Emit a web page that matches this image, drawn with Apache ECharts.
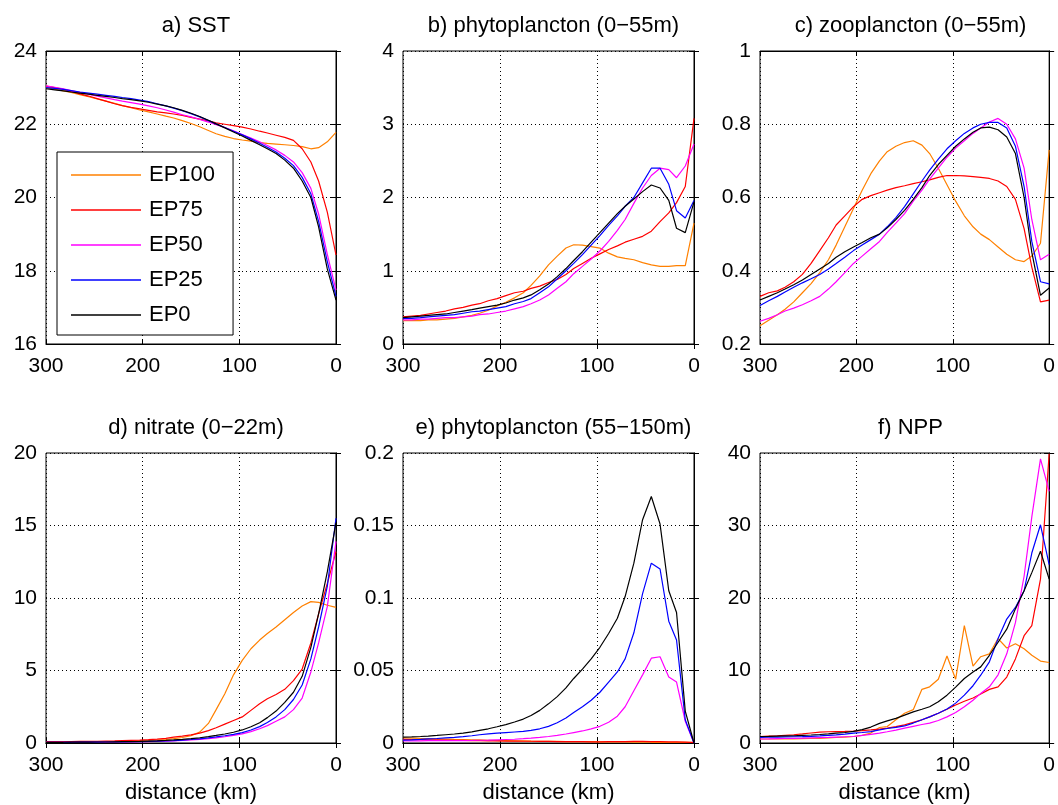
<!DOCTYPE html>
<html>
<head>
<meta charset="utf-8">
<script src="https://cdn.jsdelivr.net/npm/echarts@6/dist/echarts.min.js"></script>
<style>
  html, body { margin: 0; padding: 0; background: #fff; }
  #chart { width: 1058px; height: 805px; }
</style>
</head>
<body>
<div id="chart"></div>
<script>
// distance from the coast (km), shared by every panel
const distanceKm = [300,291,282,274,265,256,247,238,229,221,212,203,194,185,176,168,159,150,141,132,124,115,106,97,88,79,71,62,53,44,35,26,18,9,0];
const runNames = ['EP100', 'EP75', 'EP50', 'EP25', 'EP0'];
const xTicks = [300, 200, 100, 0];

// a) SST
const sstEP100 = [23.0,22.96,22.91,22.87,22.81,22.75,22.69,22.63,22.57,22.51,22.45,22.39,22.34,22.28,22.22,22.17,22.1,22.02,21.93,21.83,21.74,21.67,21.61,21.57,21.54,21.5,21.48,21.46,21.44,21.42,21.39,21.33,21.36,21.52,21.78];
const sstEP75  = [23.04,23.0,22.95,22.9,22.83,22.77,22.7,22.63,22.56,22.51,22.46,22.42,22.38,22.34,22.31,22.28,22.24,22.19,22.14,22.09,22.04,22.0,21.96,21.92,21.87,21.81,21.76,21.7,21.64,21.56,21.33,20.97,20.45,19.6,18.43];
const sstEP50  = [23.05,23.01,22.97,22.92,22.87,22.82,22.77,22.72,22.67,22.63,22.59,22.55,22.5,22.45,22.39,22.33,22.26,22.2,22.13,22.06,21.99,21.91,21.82,21.72,21.62,21.52,21.42,21.3,21.15,20.97,20.68,20.25,19.55,18.45,17.47];
const sstEP25  = [23.0,22.98,22.95,22.92,22.88,22.85,22.82,22.79,22.76,22.73,22.7,22.66,22.62,22.56,22.5,22.44,22.37,22.29,22.2,22.1,22.01,21.91,21.81,21.71,21.6,21.48,21.37,21.24,21.07,20.87,20.55,20.1,19.35,18.25,17.3];
const sstEP0   = [22.97,22.94,22.91,22.88,22.85,22.82,22.79,22.76,22.73,22.7,22.67,22.64,22.6,22.55,22.5,22.45,22.38,22.3,22.21,22.11,22.01,21.9,21.79,21.68,21.56,21.44,21.33,21.2,21.02,20.8,20.45,20.0,19.2,18.05,17.2];

// b) phytoplancton (0-55m)
const phyEP100 = [0.32,0.32,0.32,0.33,0.33,0.34,0.35,0.37,0.39,0.42,0.46,0.52,0.57,0.63,0.7,0.8,0.93,1.08,1.2,1.31,1.355,1.35,1.33,1.31,1.24,1.19,1.17,1.15,1.11,1.08,1.06,1.06,1.07,1.07,1.65];
const phyEP75  = [0.37,0.38,0.39,0.41,0.43,0.45,0.48,0.5,0.53,0.55,0.59,0.62,0.66,0.7,0.72,0.76,0.79,0.84,0.88,0.95,1.03,1.1,1.17,1.23,1.29,1.34,1.39,1.43,1.47,1.54,1.67,1.79,1.93,2.15,3.08];
const phyEP50  = [0.33,0.33,0.34,0.34,0.35,0.36,0.36,0.37,0.38,0.4,0.41,0.43,0.45,0.48,0.51,0.55,0.6,0.67,0.76,0.85,0.96,1.06,1.16,1.27,1.4,1.55,1.7,1.92,2.13,2.3,2.4,2.38,2.27,2.43,2.73];
const phyEP25  = [0.35,0.35,0.36,0.37,0.38,0.39,0.4,0.42,0.44,0.45,0.47,0.49,0.51,0.55,0.58,0.62,0.7,0.78,0.89,1.0,1.1,1.22,1.35,1.48,1.62,1.75,1.88,2.0,2.2,2.4,2.4,2.18,1.82,1.72,1.96];
const phyEP0   = [0.36,0.37,0.38,0.39,0.4,0.41,0.43,0.45,0.47,0.49,0.51,0.53,0.56,0.6,0.63,0.67,0.74,0.82,0.92,1.03,1.14,1.26,1.39,1.52,1.65,1.78,1.88,1.98,2.08,2.17,2.13,1.96,1.58,1.52,1.94];

// c) zooplancton (0-55m)
const zooEP100 = [0.25,0.265,0.28,0.295,0.315,0.34,0.365,0.395,0.43,0.47,0.52,0.57,0.62,0.665,0.7,0.725,0.74,0.75,0.755,0.743,0.72,0.68,0.635,0.59,0.55,0.52,0.5,0.485,0.465,0.445,0.43,0.425,0.44,0.475,0.73];
const zooEP75  = [0.33,0.34,0.345,0.355,0.37,0.39,0.42,0.455,0.49,0.525,0.55,0.575,0.595,0.605,0.613,0.62,0.627,0.632,0.638,0.643,0.648,0.655,0.66,0.66,0.659,0.657,0.655,0.652,0.645,0.63,0.595,0.515,0.41,0.315,0.32];
const zooEP50  = [0.262,0.27,0.28,0.29,0.298,0.307,0.318,0.33,0.35,0.37,0.395,0.42,0.44,0.46,0.48,0.505,0.53,0.556,0.59,0.62,0.65,0.68,0.71,0.735,0.755,0.775,0.79,0.806,0.816,0.8,0.76,0.68,0.54,0.43,0.445];
const zooEP25  = [0.305,0.318,0.33,0.342,0.355,0.367,0.378,0.39,0.405,0.42,0.437,0.455,0.47,0.485,0.5,0.52,0.545,0.575,0.61,0.645,0.675,0.705,0.733,0.755,0.775,0.79,0.8,0.805,0.805,0.79,0.74,0.63,0.48,0.37,0.364];
const zooEP0   = [0.32,0.33,0.34,0.35,0.362,0.375,0.39,0.405,0.42,0.437,0.452,0.465,0.477,0.49,0.5,0.517,0.54,0.565,0.595,0.627,0.66,0.69,0.715,0.74,0.76,0.778,0.79,0.792,0.785,0.765,0.72,0.6,0.45,0.333,0.353];

// d) nitrate (0-22m)
const nitEP100 = [0.05,0.05,0.05,0.05,0.06,0.06,0.07,0.08,0.09,0.1,0.12,0.14,0.16,0.2,0.24,0.3,0.38,0.5,0.75,1.35,2.3,3.4,4.7,5.7,6.5,7.1,7.55,8.0,8.5,9.0,9.45,9.75,9.7,9.5,9.35];
const nitEP75  = [0.1,0.1,0.1,0.1,0.11,0.11,0.12,0.13,0.14,0.16,0.18,0.2,0.23,0.27,0.32,0.4,0.47,0.56,0.68,0.85,1.05,1.3,1.55,1.8,2.25,2.7,3.05,3.35,3.7,4.3,5.1,6.9,8.9,11.0,13.2];
const nitEP50  = [0.05,0.05,0.05,0.05,0.05,0.06,0.06,0.06,0.07,0.07,0.08,0.09,0.1,0.11,0.13,0.15,0.18,0.21,0.25,0.3,0.36,0.43,0.52,0.63,0.78,0.98,1.2,1.5,1.8,2.3,3.1,4.9,6.9,9.4,13.9];
const nitEP25  = [0.05,0.05,0.05,0.05,0.06,0.06,0.06,0.07,0.07,0.08,0.09,0.1,0.11,0.13,0.15,0.17,0.2,0.24,0.29,0.35,0.42,0.5,0.6,0.72,0.9,1.13,1.42,1.8,2.3,3.0,4.0,5.8,8.0,10.8,15.5];
const nitEP0   = [0.05,0.05,0.05,0.06,0.06,0.06,0.07,0.07,0.08,0.09,0.1,0.11,0.13,0.15,0.18,0.21,0.25,0.3,0.36,0.44,0.52,0.62,0.74,0.9,1.12,1.4,1.75,2.2,2.8,3.5,4.6,6.6,8.9,11.8,15.2];

// e) phytoplancton (55-150m)
const deepEP100 = [0.0035,0.0034,0.0032,0.0031,0.0029,0.0027,0.0025,0.0024,0.0022,0.0021,0.0019,0.0017,0.0016,0.0015,0.0014,0.0013,0.0012,0.0012,0.0011,0.001,0.001,0.0009,0.0009,0.0008,0.0008,0.0008,0.0007,0.0006,0.0006,0.0005,0.0005,0.0005,0.0004,0.0004,0.0004];
const deepEP75  = [0.0025,0.0024,0.0023,0.0022,0.0021,0.002,0.0019,0.0018,0.0017,0.0016,0.0015,0.0014,0.0013,0.0013,0.0012,0.0012,0.0011,0.0011,0.001,0.001,0.0009,0.0009,0.0008,0.0008,0.0009,0.001,0.001,0.0011,0.0011,0.001,0.0009,0.0008,0.0008,0.0006,0.0003];
const deepEP50  = [0.0015,0.0015,0.0015,0.0016,0.0016,0.0016,0.0017,0.0017,0.0018,0.0019,0.002,0.0022,0.0024,0.0026,0.003,0.0034,0.0039,0.0045,0.0053,0.0062,0.0072,0.0083,0.0097,0.0115,0.0143,0.0185,0.025,0.036,0.047,0.0585,0.0595,0.0455,0.042,0.015,0.0];
const deepEP25  = [0.002,0.0022,0.0025,0.0028,0.0031,0.0035,0.0039,0.0044,0.005,0.0057,0.0063,0.0068,0.0072,0.0076,0.008,0.0087,0.0098,0.0115,0.014,0.0172,0.021,0.025,0.0295,0.035,0.042,0.049,0.058,0.076,0.103,0.124,0.12,0.084,0.071,0.016,0.0];
const deepEP0   = [0.004,0.0042,0.0045,0.0048,0.0052,0.0057,0.0062,0.0068,0.0077,0.0087,0.0098,0.0112,0.0127,0.0145,0.0165,0.019,0.0225,0.027,0.032,0.038,0.0445,0.051,0.058,0.066,0.0755,0.086,0.101,0.124,0.154,0.17,0.151,0.105,0.09,0.022,0.0];

// f) NPP
const nppEP100 = [0.55,0.55,0.55,0.56,0.58,0.6,0.62,0.65,0.7,0.76,0.82,0.9,1.05,1.37,2.14,2.28,3.2,4.1,4.6,7.4,7.75,8.8,12.0,8.8,16.2,10.6,11.9,12.3,14.4,13.1,13.7,13.0,12.1,11.3,11.1];
const nppEP75  = [0.9,0.95,1.0,1.07,1.14,1.25,1.38,1.5,1.55,1.58,1.6,1.65,1.72,1.8,1.92,2.05,2.25,2.5,2.85,3.2,3.6,4.1,4.65,5.25,5.75,6.2,6.75,7.4,7.75,9.1,11.6,14.8,16.2,22.6,39.9];
const nppEP50  = [0.55,0.57,0.6,0.62,0.64,0.66,0.7,0.74,0.78,0.82,0.86,0.9,1.05,1.2,1.37,1.55,1.78,2.05,2.3,2.55,2.75,3.1,3.6,4.2,5.0,5.9,6.84,7.75,9.4,12.3,16.6,23.0,31.2,39.2,34.7];
const nppEP25  = [0.78,0.8,0.82,0.84,0.86,0.88,0.92,0.98,1.05,1.12,1.22,1.35,1.45,1.58,1.8,2.0,2.15,2.35,2.75,3.2,3.6,4.1,4.7,5.5,6.6,7.9,9.35,11.2,14.4,17.1,18.7,21.0,26.2,30.1,24.6];
const nppEP0   = [0.9,0.92,0.95,0.98,1.0,1.05,1.1,1.17,1.25,1.35,1.45,1.6,1.85,2.2,2.7,3.05,3.4,3.85,4.3,4.65,5.0,5.7,6.6,7.7,8.9,9.8,10.5,12.1,13.9,15.7,18.5,21.0,23.5,26.45,22.6];

const colors = ['#FF8000', '#FF0000', '#FF00FF', '#0000FF', '#000000'];
const font = 'Liberation Sans, Arial, sans-serif';

const panels = [
  { title: 'a) SST', min: 16, max: 24, step: 2, runs: [sstEP100, sstEP75, sstEP50, sstEP25, sstEP0] },
  { title: 'b) phytoplancton (0\u221255m)', min: 0, max: 4, step: 1, runs: [phyEP100, phyEP75, phyEP50, phyEP25, phyEP0] },
  { title: 'c) zooplancton (0\u221255m)', min: 0.2, max: 1, step: 0.2, runs: [zooEP100, zooEP75, zooEP50, zooEP25, zooEP0] },
  { title: 'd) nitrate (0\u221222m)', min: 0, max: 20, step: 5, runs: [nitEP100, nitEP75, nitEP50, nitEP25, nitEP0] },
  { title: 'e) phytoplancton (55\u2212150m)', min: 0, max: 0.2, step: 0.05, runs: [deepEP100, deepEP75, deepEP50, deepEP25, deepEP0] },
  { title: 'f) NPP', min: 0, max: 40, step: 10, runs: [nppEP100, nppEP75, nppEP50, nppEP25, nppEP0] }
];

// plot boxes (px)
const lefts = [46, 403, 760];
const widths = [290, 291, 291];
const tops = [51, 453];
const heights = [293, 292];
const titleTops = [10, 412];

let grid = [], xAxis = [], yAxis = [], series = [], title = [];
const dotted = { show: true, lineStyle: { color: '#000', type: [1, 3], width: 1 } };
const tick = { show: true, inside: true, length: 5, lineStyle: { color: '#000' } };
const axisLine = { show: true, lineStyle: { color: '#000', width: 1 } };

panels.forEach(function (p, i) {
  const row = Math.floor(i / 3), col = i % 3;
  grid.push({
    left: lefts[col], top: tops[row], width: widths[col], height: heights[row],
    show: true, borderColor: '#000', borderWidth: 1, backgroundColor: '#fff'
  });
  title.push({
    text: p.title, left: lefts[col] + widths[col] / 2, top: titleTops[row], textAlign: 'center',
    textStyle: { fontSize: 22, fontWeight: 'normal', fontFamily: font, color: '#000' }
  });
  // bottom / left axes carry labels, top / right ones only ticks
  xAxis.push({
    type: 'value', gridIndex: i, min: 0, max: 300, interval: 100, inverse: true, position: 'bottom',
    axisLine: axisLine, axisTick: tick, splitLine: dotted,
    axisLabel: { color: '#000', fontSize: 21, fontFamily: font, margin: 12 },
    name: row === 1 ? 'distance (km)' : '', nameLocation: 'middle', nameGap: 39,
    nameTextStyle: { color: '#000', fontSize: 22, fontFamily: font }
  });
  xAxis.push({
    type: 'value', gridIndex: i, min: 0, max: 300, interval: 100, inverse: true, position: 'top',
    axisLine: axisLine, axisTick: tick, splitLine: { show: false }, axisLabel: { show: false }
  });
  yAxis.push({
    type: 'value', gridIndex: i, min: p.min, max: p.max, interval: p.step, position: 'left',
    axisLine: axisLine, axisTick: tick, splitLine: dotted,
    axisLabel: { color: '#000', fontSize: 21, fontFamily: font, margin: 9 }
  });
  yAxis.push({
    type: 'value', gridIndex: i, min: p.min, max: p.max, interval: p.step, position: 'right',
    axisLine: axisLine, axisTick: tick, splitLine: { show: false }, axisLabel: { show: false }
  });
  p.runs.forEach(function (vals, k) {
    series.push({
      name: runNames[k], type: 'line', xAxisIndex: 2 * i, yAxisIndex: 2 * i,
      symbol: 'none', showSymbol: false, silent: true,
      lineStyle: { color: colors[k], width: 1.2 },
      itemStyle: { color: colors[k] },
      data: distanceKm.map(function (d, j) { return [d, vals[j]]; })
    });
  });
});

const chart = echarts.init(document.getElementById('chart'));
chart.setOption({
  animation: false,
  backgroundColor: '#fff',
  textStyle: { fontFamily: font },
  title: title,
  legend: {
    data: runNames, orient: 'vertical', left: 57, top: 152,
    padding: [12, 18, 9, 14], itemGap: 13,
    icon: 'rect', itemWidth: 70, itemHeight: 1.5,
    backgroundColor: '#fff', borderColor: '#000', borderWidth: 1, borderRadius: 0,
    textStyle: { fontSize: 22, fontFamily: font, color: '#000', padding: [0, 0, 0, 3] }
  },
  grid: grid,
  xAxis: xAxis,
  yAxis: yAxis,
  series: series
});
</script>
</body>
</html>
